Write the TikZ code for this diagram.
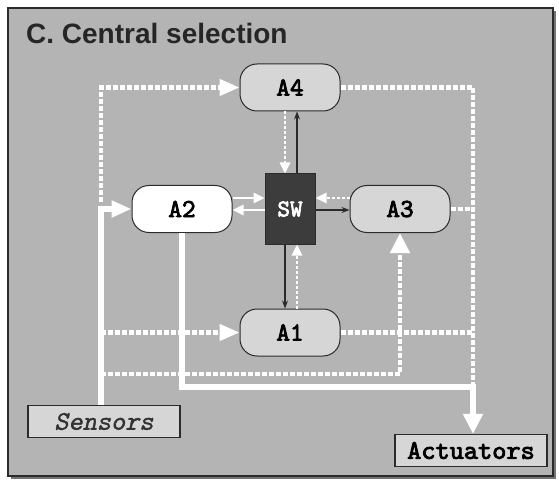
\documentclass[tikz,border=0pt]{standalone}
\usepackage{fontspec}
\setmainfont{Liberation Sans}
\newfontfamily\heavymono{lmmono10-regular.otf}[FakeBold=3]
\newfontfamily\slantmono{lmmono10-regular.otf}[FakeBold=1.2, FakeSlant=0.2]
\usetikzlibrary{positioning, arrows.meta, calc}
\definecolor{panelgray}{HTML}{B4B4B4}
\definecolor{agentgray}{HTML}{D6D6D6}
\definecolor{switchgray}{HTML}{3C3C3C}
\definecolor{edgegray}{HTML}{2B2B2B}
\tikzset{
    bigtip/.tip={Triangle[length=20pt, width=16pt]},
    uptip/.tip={Triangle[length=20pt, width=19pt]},
}

\begin{document}
\begin{tikzpicture}[x=1pt, y=-1pt,
            agent/.style={rectangle, draw=edgegray, line width=1pt, rounded corners=17pt,
                          minimum width=100pt, minimum height=47pt, fill=agentgray,
                          font=\heavymono\fontsize{26}{26}\selectfont},
            switchbox/.style={rectangle, draw=edgegray, line width=1pt, fill=switchgray,
                          minimum width=50pt, minimum height=70pt, text=white,
                          font=\heavymono\fontsize{24}{24}\selectfont},
            iobox/.style={rectangle, draw=edgegray, line width=1.2pt, fill=agentgray,
                          minimum width=152pt, minimum height=32pt, inner sep=0pt,
                          font=\heavymono\fontsize{27}{27}\selectfont},
            sig/.style={draw=white, line width=4.5pt, dash pattern=on 5pt off 2pt},
            feed/.style={draw=white, line width=5.5pt},
            wlink/.style={draw=white, line width=2.6pt, -{Triangle[length=11pt, width=10pt]}},
            wdot/.style={draw=white, line width=2.6pt, dash pattern=on 3pt off 2pt,
                         -{Triangle[length=11pt, width=10pt]}},
            dlink/.style={draw=edgegray, line width=1.2pt, -{Stealth[length=8pt, width=6pt]}},
        ]
            \useasboundingbox (0,0) rectangle (559,481);

            % Panel with title
            \fill[black!55] (11,11) rectangle (556,479);
            \draw[edgegray, line width=2pt, fill=panelgray] (8,8) rectangle (553,476);
            \node[font=\bfseries\fontsize{28}{28}\selectfont, text=black!85, anchor=west,
                  inner sep=0pt] (title) at (26,33) {C. Central selection};

            % Switch in the middle, agents around it
            \node[switchbox] (sw) at (290,209) {SW};
            \node[agent, fill=white, left=32pt of sw] (a2) {A2};
            \node[agent, right=34pt of sw] (a3) {A3};
            \node[agent, above=62pt of sw] (a4) {A4};
            \node[agent, below=64pt of sw] (a1) {A1};

            % Sensors and actuators
            \node[iobox, font=\slantmono\fontsize{27}{27}\selectfont, text=black!80]
                (sens) at (104,421.5) {Sensors};
            \node[iobox] (act) at (471,450.5) {Actuators};

            \coordinate (sbus) at (101,208);
            \coordinate (lowbus) at (101,374);
            \coordinate (rbus) at (473,387);

            % Dotted sensor lines in, agent lines out
            \draw[sig, -bigtip] ($(sbus)+(0,-6)$) |- (a4);
            \draw[sig, -bigtip] (a1 -| sbus) -- (a1);
            \draw[sig, -uptip] (lowbus) -| (a3);
            \draw[sig] (a4) -| (rbus);
            \draw[sig] (a3) -- (a3 -| rbus);
            \draw[sig] (a1) -- (a1 -| rbus);

            % Solid paths
            \draw[feed, -bigtip] (sens.north -| sbus) |- (a2);
            \draw[feed, -uptip] (a2) |- (rbus) -- (rbus |- act.north);

            % Links to the switch
            \draw[wlink] ([yshift=11pt]a2.east) -- ([yshift=11pt]sw.west);
            \draw[wlink] ([yshift=-1pt]sw.west) -- ([yshift=-1pt]a2.east);
            \draw[wdot] ([yshift=11pt]a3.west) -- ([yshift=11pt]sw.east);
            \draw[dlink] ([yshift=-1pt]sw.east) -- ([yshift=-1pt]a3.west);
            \draw[dlink] ([xshift=7pt]sw.north) -- ([xshift=7pt]a4.south);
            \draw[wdot] ([xshift=-5pt]a4.south) -- ([xshift=-5pt]sw.north);
            \draw[dlink] ([xshift=-5pt]sw.south) -- ([xshift=-5pt]a1.north);
            \draw[wdot] ([xshift=7pt]a1.north) -- ([xshift=7pt]sw.south);
        \end{tikzpicture}
\end{document}
